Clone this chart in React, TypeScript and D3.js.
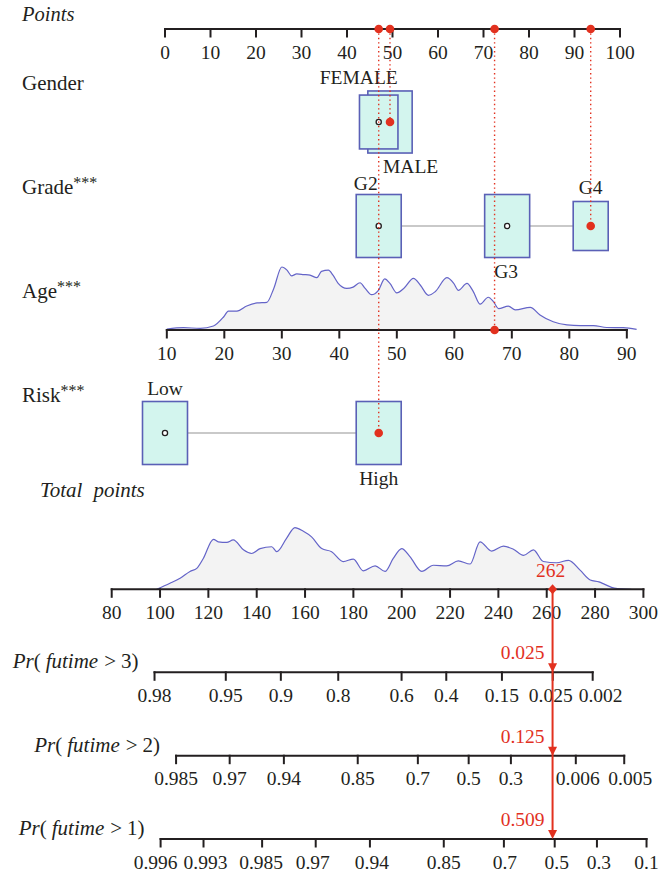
import React from "react";
import * as d3 from "d3";

// ---------- data ----------
const pointTicks = [0, 10, 20, 30, 40, 50, 60, 70, 80, 90, 100];
const totalTicks = [80, 100, 120, 140, 160, 180, 200, 220, 240, 260, 280, 300];
const ageTicks = [10, 20, 30, 40, 50, 60, 70, 80, 90];
const ageDomain = [10, 90];
const agePointRange = [0.4, 101.5];

const genderLevels = ["MALE", "FEMALE"];
const genderPoints = [49.45, 46.97];
const genderShare = [0.985, 0.855];

const gradeLevels = ["G2", "G3", "G4"];
const gradePoints = [46.97, 75.2, 93.56];
const gradeShare = [1, 1, 0.778];

const riskLevels = ["Low", "High"];
const riskPoints = [0, 46.97];
const riskShare = [1, 1];

const obsGender = "MALE";
const obsGrade = "G4";
const obsAge = 67;
const obsRisk = "High";

const ageDensAge = [10.0, 12.9, 15.8, 18.1, 19.9, 20.7, 22.2, 23.9, 25.7, 27.4, 28.6, 30.0, 30.9, 31.7, 32.6, 33.8, 34.9, 36.1, 36.9, 38.1, 38.9, 39.8, 41.3, 42.4, 43.6, 44.5, 45.6, 46.8, 47.9, 48.8, 50.0, 51.2, 52.9, 54.1, 55.5, 56.7, 58.7, 59.9, 60.7, 62.2, 63.3, 64.5, 65.9, 66.8, 67.7, 69.4, 70.6, 73.2, 74.9, 77.2, 79.6, 81.9, 84.2, 86.5, 89.4, 91.7];
const ageDensVal = [0.016, 0.037, 0.026, 0.063, 0.21, 0.3, 0.3, 0.38, 0.43, 0.44, 0.66, 1.0, 0.95, 0.86, 0.89, 0.88, 0.87, 0.83, 0.93, 0.95, 0.87, 0.74, 0.66, 0.68, 0.75, 0.66, 0.56, 0.63, 0.81, 0.74, 0.59, 0.66, 0.82, 0.71, 0.55, 0.61, 0.83, 0.74, 0.63, 0.74, 0.61, 0.41, 0.52, 0.45, 0.34, 0.38, 0.32, 0.36, 0.24, 0.13, 0.08, 0.07, 0.07, 0.04, 0.037, 0.01];

const totDensPts = [98.6, 104.1, 108.3, 112.4, 115.2, 117.9, 122.1, 124.1, 127.6, 130.3, 134.5, 137.9, 141.4, 146.2, 148.3, 152.4, 155.8, 159.3, 162.7, 166.9, 171.0, 175.8, 180.0, 184.1, 189.0, 193.1, 196.5, 200.0, 203.4, 208.3, 213.1, 218.6, 223.4, 228.3, 232.4, 237.2, 242.1, 246.2, 250.4, 254.5, 258.6, 264.1, 269.0, 273.8, 278.0, 281.6, 284.0, 288.0, 295.0];
const totDensVal = [0, 0.097, 0.18, 0.29, 0.34, 0.5, 0.81, 0.77, 0.76, 0.8, 0.64, 0.58, 0.66, 0.69, 0.61, 0.83, 1.0, 0.94, 0.85, 0.66, 0.61, 0.45, 0.49, 0.3, 0.38, 0.29, 0.5, 0.66, 0.53, 0.29, 0.39, 0.38, 0.46, 0.41, 0.77, 0.62, 0.7, 0.65, 0.55, 0.64, 0.45, 0.43, 0.47, 0.31, 0.15, 0.12, 0.08, 0.02, 0];

const prHorizons = [3, 2, 1];
const prT0 = [221.2, 239.3, 274.9];
const prSlope = 0.0316;
const pr3Values = [0.98, 0.95, 0.9, 0.8, 0.6, 0.4, 0.15, 0.025, 0.002];
const pr3Labels = ["0.98", "0.95", "0.9", "0.8", "0.6", "0.4", "0.15", "0.025", "0.002"];
const pr2Values = [0.985, 0.97, 0.94, 0.85, 0.7, 0.5, 0.3, 0.06, 0.005];
const pr2Labels = ["0.985", "0.97", "0.94", "0.85", "0.7", "0.5", "0.3", "0.006", "0.005"];
const pr1Values = [0.996, 0.993, 0.985, 0.97, 0.94, 0.85, 0.7, 0.5, 0.3, 0.1];
const pr1Labels = ["0.996", "0.993", "0.985", "0.97", "0.94", "0.85", "0.7", "0.5", "0.3", "0.1"];
const prShown = ["0.025", "0.125", "0.509"];
const totalShown = "262";

// ---------- layout ----------
const FONT = "'Liberation Serif', 'DejaVu Serif', serif";
const INK = "#231f20";
const RED = "#e2311f";
const BOX_FILL = "#d3f5ee";
const BOX_STROKE = "#5a60b6";
const DENS_STROKE = "#6464c8";
const FS = 19.5;

// label nudges (to avoid overlapping tick labels, as in the reference)
const pr3LabelDx = [0, 0, 0, 0, 0, 0, 0, -2, 8];
const pr2LabelDx = [0, 0, 0, 0, 0, 0, 0, 2, 6];
const pr1LabelDx = [-5, 2, -1, -3, 2, 0, 1, 2, 2, 0];

const px = d3.scaleLinear().domain([0, 100]).range([165, 620]);
const tx = d3.scaleLinear().domain([80, 300]).range([111.7, 643.4]);
const ageToPts = d3.scaleLinear().domain(ageDomain).range(agePointRange);
const ageX = (a: number) => px(ageToPts(a));

const Y_POINTS = 29;
const Y_GENDER = 122;
const Y_GRADE = 226;
const Y_AGE = 330;
const Y_RISK = 433;
const Y_TOTAL = 589.3;
const Y_PR = [672.3, 755.7, 839];
const BOX_W = 45;
const BOX_H = 63;
const TICK = 8.5;
const LABEL_DY = 29.5;

const genderLabelPos = [
  { pos: "below", anchor: "start", dx: -7, dy: 0 },
  { pos: "above", anchor: "end", dx: 19, dy: -4 },
];
const gradeLabelPos = [
  { pos: "above", anchor: "end", dx: -1, dy: 2 },
  { pos: "below", anchor: "start", dx: -13, dy: 0 },
  { pos: "above", anchor: "middle", dx: 0, dy: 0 },
];
const riskLabelPos = [
  { pos: "above", anchor: "middle", dx: 0, dy: 0 },
  { pos: "below", anchor: "middle", dx: 0, dy: 0 },
];

const cloglog = (p: number) => Math.log(-Math.log(p));
const prScale = (i: number) =>
  d3.scaleLinear().domain([0, 1]).range([tx(prT0[i]), tx(prT0[i] + 1 / prSlope)]);

function Axis({ y, ticks, labels, xf, ldx }: { y: number; ticks: number[]; labels: string[]; xf: (v: number) => number; ldx?: number[] }) {
  const x0 = xf(ticks[0]);
  const x1 = xf(ticks[ticks.length - 1]);
  return (
    <g>
      <line x1={x0 - 1} x2={x1 + 1} y1={y} y2={y} stroke={INK} strokeWidth={2} />
      {ticks.map((t, i) => (
        <g key={i}>
          <line x1={xf(t)} x2={xf(t)} y1={y - 1} y2={y + TICK} stroke={INK} strokeWidth={2} />
          <text x={xf(t) + (ldx ? ldx[i] : 0)} y={y + LABEL_DY} textAnchor="middle" fontSize={FS} fill={INK}>
            {labels[i]}
          </text>
        </g>
      ))}
    </g>
  );
}

function CatRow({ levels, points, share, y, layout, obs }: any) {
  const xs = points.map((p: number) => px(p));
  const minX = d3.min(xs) as number;
  const maxX = d3.max(xs) as number;
  return (
    <g>
      <line x1={minX} x2={maxX} y1={y} y2={y} stroke="#c9c9c9" strokeWidth={2} />
      {levels.map((l: string, i: number) => {
        const w = BOX_W * share[i];
        const h = BOX_H * share[i];
        return (
          <rect key={l} x={xs[i] - w / 2} y={y - h / 2} width={w} height={h} fill={BOX_FILL} stroke={BOX_STROKE} strokeWidth={1.6} />
        );
      })}
      {levels.map((l: string, i: number) => {
        const h = BOX_H * share[i];
        const lp = layout[i];
        const ly = lp.pos === "above" ? y - h / 2 - 7 + lp.dy : y + h / 2 + 20 + lp.dy;
        return (
          <text key={"t" + l} x={xs[i] + lp.dx} y={ly} textAnchor={lp.anchor} fontSize={FS} fill={INK}>
            {l}
          </text>
        );
      })}
      {levels.map((l: string, i: number) =>
        l === obs ? null : (
          <circle key={"c" + l} cx={xs[i]} cy={y} r={2.6} fill="#fff" stroke={INK} strokeWidth={1.3} />
        )
      )}
    </g>
  );
}

function Density({ xs, vals, base, height }: { xs: number[]; vals: number[]; base: number; height: number }) {
  const hy = d3.scaleLinear().domain([0, 1]).range([base, base - height]);
  const pts: [number, number][] = xs.map((x, i) => [x, vals[i]]);
  const area = d3
    .area<[number, number]>()
    .x((d) => d[0])
    .y0(base)
    .y1((d) => hy(d[1]))
    .curve(d3.curveMonotoneX);
  const line = d3
    .line<[number, number]>()
    .x((d) => d[0])
    .y((d) => hy(d[1]))
    .curve(d3.curveMonotoneX);
  return (
    <g>
      <path d={area(pts) || ""} fill="#f3f3f3" />
      <path d={line(pts) || ""} fill="none" stroke={DENS_STROKE} strokeWidth={1.2} />
    </g>
  );
}

function RowLabel({ y, text, stars }: { y: number; text: string; stars?: boolean }) {
  return (
    <text x={22} y={y} fontSize={21} fill={INK}>
      {text}
      {stars ? (
        <tspan dy={-6} fontSize={16}>
          ***
        </tspan>
      ) : null}
    </text>
  );
}

export default function App() {
  const gIdx = genderLevels.indexOf(obsGender);
  const grIdx = gradeLevels.indexOf(obsGrade);
  const rIdx = riskLevels.indexOf(obsRisk);
  const obsPts = [
    { p: genderPoints[gIdx], y: Y_GENDER },
    { p: gradePoints[grIdx], y: Y_GRADE },
    { p: ageToPts(obsAge), y: Y_AGE },
    { p: riskPoints[rIdx], y: Y_RISK },
  ];
  const total = d3.sum(obsPts, (d) => d.p);
  const xT = tx(total);
  const prSets = [
    { values: pr3Values, labels: pr3Labels, ldx: pr3LabelDx },
    { values: pr2Values, labels: pr2Labels, ldx: pr2LabelDx },
    { values: pr1Values, labels: pr1Labels, ldx: pr1LabelDx },
  ];

  return (
    <svg
      width={662}
      height={877}
      style={{ position: "absolute", left: 0, top: 0, background: "#fff", fontFamily: FONT }}
    >
      <rect width={662} height={877} fill="#fff" />
      {/* Points */}
      <text x={22} y={21} fontSize={20.5} fontStyle="italic" fill={INK}>
        Points
      </text>
      <Axis y={Y_POINTS} ticks={pointTicks} labels={pointTicks.map(String)} xf={px} />

      {/* Row labels */}
      <RowLabel y={90} text="Gender" />
      <RowLabel y={194} text="Grade" stars />
      <RowLabel y={298} text="Age" stars />
      <RowLabel y={402} text="Risk" stars />

      {/* Gender */}
      <CatRow levels={genderLevels} points={genderPoints} share={genderShare} y={Y_GENDER} layout={genderLabelPos} obs={obsGender} />
      {/* Grade */}
      <CatRow levels={gradeLevels} points={gradePoints} share={gradeShare} y={Y_GRADE} layout={gradeLabelPos} obs={obsGrade} />
      {/* Age */}
      <Density xs={ageDensAge.map(ageX)} vals={ageDensVal} base={Y_AGE} height={63} />
      <Axis y={Y_AGE} ticks={ageTicks} labels={ageTicks.map(String)} xf={ageX} />
      {/* Risk */}
      <CatRow levels={riskLevels} points={riskPoints} share={riskShare} y={Y_RISK} layout={riskLabelPos} obs={obsRisk} />

      {/* dotted guides + observed markers */}
      {obsPts.map((o, i) => (
        <line key={"d" + i} x1={px(o.p)} x2={px(o.p)} y1={Y_POINTS} y2={o.y} stroke={RED} strokeWidth={1.4} strokeDasharray="1.4 3" />
      ))}
      {obsPts.map((o, i) => (
        <g key={"m" + i}>
          <circle cx={px(o.p)} cy={Y_POINTS} r={4.3} fill={RED} />
          <circle cx={px(o.p)} cy={o.y} r={4.3} fill={RED} />
        </g>
      ))}

      {/* Total points */}
      <text x={40} y={497} fontSize={21} fontStyle="italic" fill={INK}>
        Total<tspan dx={11}>points</tspan>
      </text>
      <Density xs={totDensPts.map(tx)} vals={totDensVal} base={Y_TOTAL} height={61.7} />
      <Axis y={Y_TOTAL} ticks={totalTicks} labels={totalTicks.map(String)} xf={tx} />

      {/* Pr axes */}
      {prSets.map((s, i) => {
        const sc = prScale(i);
        const xf = (p: number) => sc(cloglog(p));
        const y = Y_PR[i];
        const start = xf(s.values[0]);
        return (
          <g key={"pr" + i}>
            <text x={start - 16} y={y - 4} textAnchor="end" fontSize={21} fill={INK}>
              <tspan fontStyle="italic">Pr</tspan>(<tspan dx={5} fontStyle="italic">futime</tspan>
              <tspan dx={6}>&gt;</tspan>
              <tspan dx={5}>{prHorizons[i]})</tspan>
            </text>
            <Axis y={y} ticks={s.values} labels={s.labels} xf={xf} ldx={s.ldx} />
          </g>
        );
      })}

      {/* observation path */}
      <line x1={xT} x2={xT} y1={Y_TOTAL} y2={Y_PR[2] - 6} stroke={RED} strokeWidth={2} />
      <path
        d={`M${xT},${Y_TOTAL - 5} L${xT + 4.5},${Y_TOTAL} L${xT},${Y_TOTAL + 5} L${xT - 4.5},${Y_TOTAL} Z`}
        fill={RED}
      />
      <text x={xT - 2} y={576.5} textAnchor="middle" fontSize={FS} fill={RED}>
        {totalShown}
      </text>
      {Y_PR.map((y, i) => (
        <g key={"a" + i}>
          <path d={`M${xT - 4.5},${y - 9} L${xT + 4.5},${y - 9} L${xT},${y} Z`} fill={RED} />
          <text x={xT - 8} y={y - 13} textAnchor="end" fontSize={FS} fill={RED}>
            {prShown[i]}
          </text>
        </g>
      ))}
    </svg>
  );
}
